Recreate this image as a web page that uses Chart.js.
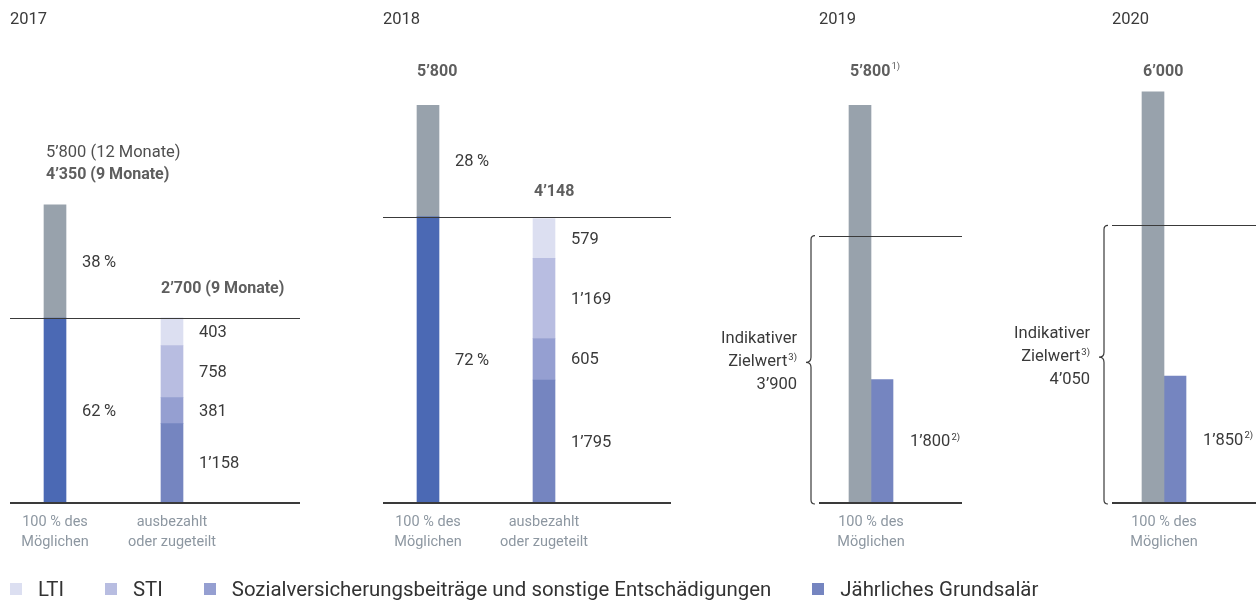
<!DOCTYPE html>
<html lang="de">
<head>
<meta charset="UTF-8">
<title>Vergütung 2017–2020</title>
<style>
  html, body { margin: 0; padding: 0; background: #fff; }
  body { width: 1256px; height: 602px; position: relative; overflow: hidden; font-family: Roboto, 'Noto Sans', sans-serif; }
  canvas.panel { position: absolute; left: 0; top: 0; }
  .legend { position: absolute; left: 10px; top: 577px; display: flex; align-items: center; font-size: 20.4px; color: #333; white-space: nowrap; }
  .legend .item { display: flex; align-items: center; margin-right: 41px; }
  .legend i { display: inline-block; width: 12px; height: 12px; margin-right: 16px; }
</style>
</head>
<body>
<canvas id="c2017" class="panel" width="1256" height="602"></canvas>
<canvas id="c2018" class="panel" width="1256" height="602"></canvas>
<canvas id="c2019" class="panel" width="1256" height="602"></canvas>
<canvas id="c2020" class="panel" width="1256" height="602"></canvas>
<div class="legend" id="legend"></div>

<script src="https://cdn.jsdelivr.net/npm/chart.js"></script>
<script>
// --- data ---
const years = ['2017', '2018', '2019', '2020'];
const catsPaid = [['100 % des', 'Möglichen'], ['ausbezahlt', 'oder zugeteilt']];
const catsMax = [['100 % des', 'Möglichen']];
const legendNames = ['LTI', 'STI', 'Sozialversicherungsbeiträge und sonstige Entschädigungen', 'Jährliches Grundsalär'];

// 2017 (9 Monate)
const fix2017 = [2697, null];      // 62 % von 4'350
const var2017 = [1653, null];      // 38 %
const grund2017 = [null, 1158];
const sozial2017 = [null, 381];
const sti2017 = [null, 758];
const lti2017 = [null, 403];
const fullYear2017 = 5800;

// 2018
const fix2018 = [4176, null];      // 72 % von 5'800
const var2018 = [1624, null];      // 28 %
const grund2018 = [null, 1795];
const sozial2018 = [null, 605];
const sti2018 = [null, 1169];
const lti2018 = [null, 579];

// 2019 / 2020
const max2019 = [5800];
const grund2019 = [1800];
const target2019 = 3900;
const max2020 = [6000];
const grund2020 = [1850];
const target2020 = 4050;

// --- styles ---
const W = 1256, H = 602, TOP = 78, BASE = 503, Y_MAX = 6200;
const C = {
  grey: '#98a2ac', dark: '#4b69b4', grund: '#7585c0', sozial: '#959fd1',
  sti: '#b8bde1', lti: '#dcdff1', line: '#3a3a3a', text: '#3a3a3a',
  head: '#5e5e5e', cat: '#8d97a1'
};
const F = {
  title: '16.5px Roboto, sans-serif',
  val: '16.5px Roboto, sans-serif',
  bold: 'bold 16px Roboto, sans-serif',
  cat: '14.5px Roboto, sans-serif',
  sup: '9.5px Roboto, sans-serif'
};

const fmt = v => v >= 1000 ? Math.floor(v / 1000) + '’' + String(v % 1000).padStart(3, '0') : String(v);

function text(ctx, s, x, y, font, color, align) {
  ctx.font = font;
  ctx.fillStyle = color;
  ctx.textAlign = align || 'left';
  ctx.textBaseline = 'middle';
  ctx.fillText(s, x, y);
}

// main text followed by a raised footnote mark
function textSup(ctx, s, mark, x, y, font, color, align) {
  ctx.font = font;
  const w1 = ctx.measureText(s).width;
  ctx.font = F.sup;
  const w2 = ctx.measureText(mark).width + 1;
  const left = align === 'right' ? x - w1 - w2 : x;
  text(ctx, s, left, y, font, color);
  text(ctx, mark, left + w1 + 1, y - 5, F.sup, color);
}

function hline(ctx, x0, x1, y, w) {
  ctx.strokeStyle = C.line;
  ctx.lineWidth = w;
  ctx.beginPath();
  ctx.moveTo(x0, Math.round(y) + (w % 2 ? 0.5 : 0));
  ctx.lineTo(x1, Math.round(y) + (w % 2 ? 0.5 : 0));
  ctx.stroke();
}

function brace(ctx, x, y0, y1, ym) {
  ctx.strokeStyle = C.line;
  ctx.lineWidth = 1.2;
  ctx.beginPath();
  ctx.moveTo(x + 4, y0);
  ctx.quadraticCurveTo(x, y0, x, y0 + 4);
  ctx.lineTo(x, ym - 5);
  ctx.quadraticCurveTo(x, ym, x - 5, ym);
  ctx.quadraticCurveTo(x, ym, x, ym + 5);
  ctx.lineTo(x, y1 - 4);
  ctx.quadraticCurveTo(x, y1, x + 4, y1);
  ctx.stroke();
}

function catLabels(chart, cats) {
  const ctx = chart.ctx;
  cats.forEach((lines, i) => {
    const cx = chart.scales.x.getPixelForValue(i);
    lines.forEach((l, k) => text(ctx, l, cx, BASE + 19 + k * 20, F.cat, C.cat, 'center'));
  });
}

const bar = (chart, d, i) => chart.getDatasetMeta(d).data[i];
const val = (chart, d, i) => chart.data.datasets[d].data[i];

// stacked panels 2017 / 2018
function paintPaid(chart, p) {
  const ctx = chart.ctx;
  const fix = bar(chart, 0, 0), vr = bar(chart, 1, 0);
  const total = val(chart, 0, 0) + val(chart, 1, 0);
  hline(ctx, p.x0, p.x1, fix.y, 1);
  hline(ctx, p.x0, p.x1, BASE, 2);
  text(ctx, p.year, p.x0, 20, F.title, C.text);

  text(ctx, Math.round(val(chart, 1, 0) / total * 100) + '\u2009%', fix.x + 27, (vr.y + vr.base) / 2 + 1, F.val, C.text);
  text(ctx, Math.round(val(chart, 0, 0) / total * 100) + '\u2009%', fix.x + 27, (fix.y + fix.base) / 2 + 1, F.val, C.text);

  let paid = 0;
  for (let d = 2; d <= 5; d++) {
    const b = bar(chart, d, 1);
    paid += val(chart, d, 1);
    text(ctx, fmt(val(chart, d, 1)), b.x + 27, (b.y + b.base) / 2 + 1, F.val, C.text);
  }
  const topSeg = bar(chart, 5, 1);
  p.heads(ctx, vr, topSeg, total, paid);
  catLabels(chart, catsPaid);
}

// target panels 2019 / 2020
function paintTarget(chart, p) {
  const ctx = chart.ctx;
  const g = bar(chart, 0, 0), b = bar(chart, 1, 0);
  const ty = chart.scales.y.getPixelForValue(p.target);
  hline(ctx, p.x0, p.x1, ty, 1);
  hline(ctx, p.x0, p.x1, BASE, 2);
  const ym = (ty + BASE) / 2 - 7;
  brace(ctx, p.x0 - 8, ty, BASE + 1, ym);
  text(ctx, p.year, p.x0, 20, F.title, C.text);

  const tx = p.x0 - 22;
  text(ctx, 'Indikativer', tx, ym - 23, F.val, C.text, 'right');
  textSup(ctx, 'Zielwert', '3)', tx, ym, F.val, C.text, 'right');
  text(ctx, fmt(p.target), tx, ym + 23, F.val, C.text, 'right');

  const gv = val(chart, 0, 0);
  if (p.mark1) textSup(ctx, fmt(gv), '1)', g.x - 10, 72, F.bold, C.head);
  else text(ctx, fmt(gv), g.x - 10, 72, F.bold, C.head);
  textSup(ctx, fmt(val(chart, 1, 0)), '2)', b.x + 28, (b.y + b.base) / 2 + 1, F.val, C.text);
  catLabels(chart, catsMax);
}

const painters = {
  c2017: chart => paintPaid(chart, {
    year: years[0], x0: 10, x1: 300,
    heads: (ctx, vr, topSeg, total, paid) => {
      text(ctx, fmt(fullYear2017) + ' (12 Monate)', vr.x - 9, vr.y - 52, F.val, '#4f4f4f');
      text(ctx, fmt(total) + ' (9 Monate)', vr.x - 9, vr.y - 30, F.bold, C.head);
      text(ctx, fmt(paid) + ' (9 Monate)', topSeg.x - 11, topSeg.y - 29, F.bold, C.head);
    }
  }),
  c2018: chart => paintPaid(chart, {
    year: years[1], x0: 383, x1: 671,
    heads: (ctx, vr, topSeg, total, paid) => {
      text(ctx, fmt(total), vr.x - 11, 72, F.bold, C.head);
      text(ctx, fmt(paid), topSeg.x - 10, topSeg.y - 27, F.bold, C.head);
    }
  }),
  c2019: chart => paintTarget(chart, { year: years[2], x0: 819, x1: 962, target: target2019, mark1: true }),
  c2020: chart => paintTarget(chart, { year: years[3], x0: 1112, x1: 1256, target: target2020, mark1: false })
};

const annotPlugin = {
  id: 'annot',
  afterDatasetsDraw(chart) {
    chart.ctx.save();
    painters[chart.canvas.id](chart);
    chart.ctx.restore();
  }
};

const ds = (label, data, color, stack) => ({
  label, data, backgroundColor: color, stack, barThickness: 22, borderWidth: 0, clip: false
});

function panel(id, labels, datasets, left, right, offset) {
  return new Chart(document.getElementById(id), {
    type: 'bar',
    data: { labels, datasets },
    options: {
      responsive: false,
      animation: false,
      layout: { padding: { left, right: W - right, top: TOP, bottom: H - BASE } },
      scales: {
        x: { display: false, offset, stacked: true },
        y: { display: false, min: 0, max: Y_MAX, stacked: true }
      },
      plugins: { legend: { display: false }, tooltip: { enabled: false } }
    },
    plugins: [annotPlugin]
  });
}

const paidSets = (fix, vr, grund, sozial, sti, lti) => [
  ds('Fix', fix, C.dark, 's'),
  ds('Variabel', vr, C.grey, 's'),
  ds(legendNames[3], grund, C.grund, 's'),
  ds(legendNames[2], sozial, C.sozial, 's'),
  ds(legendNames[1], sti, C.sti, 's'),
  ds(legendNames[0], lti, C.lti, 's')
];

panel('c2017', catsPaid.map(c => c.join(' ')), paidSets(fix2017, var2017, grund2017, sozial2017, sti2017, lti2017), 55, 172, false);
panel('c2018', catsPaid.map(c => c.join(' ')), paidSets(fix2018, var2018, grund2018, sozial2018, sti2018, lti2018), 428, 544, false);
panel('c2019', catsMax.map(c => c.join(' ')), [ds('Maximum', max2019, C.grey, 'g'), ds(legendNames[3], grund2019, C.grund, 'b')], 820, 922, true);
panel('c2020', catsMax.map(c => c.join(' ')), [ds('Maximum', max2020, C.grey, 'g'), ds(legendNames[3], grund2020, C.grund, 'b')], 1113, 1215, true);

// legend
const legendColors = [C.lti, C.sti, C.sozial, C.grund];
document.getElementById('legend').innerHTML = legendNames
  .map((n, i) => `<span class="item"><i style="background:${legendColors[i]}"></i>${n}</span>`)
  .join('');
</script>
</body>
</html>
